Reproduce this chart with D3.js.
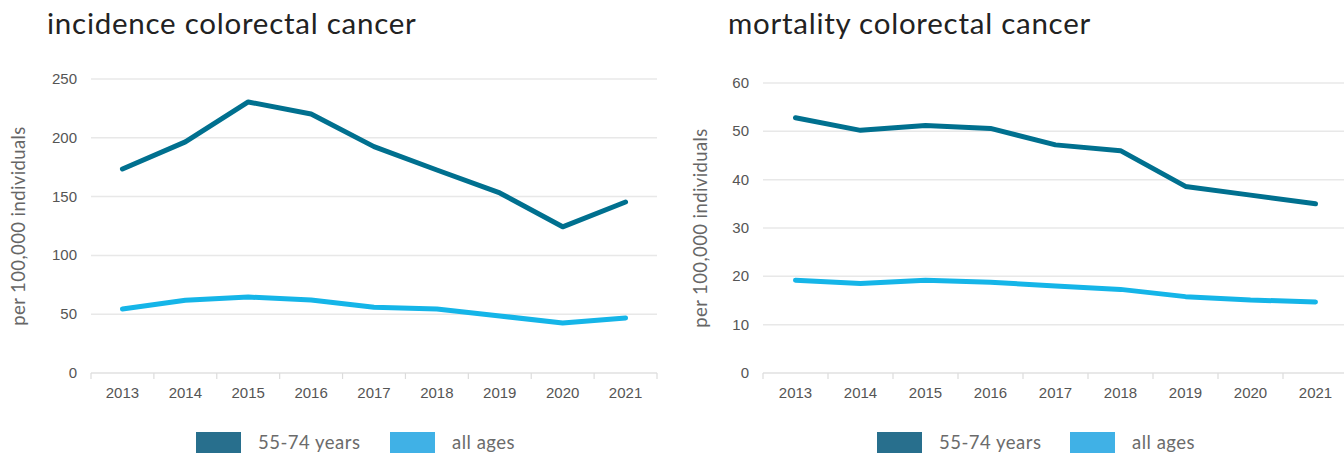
<!DOCTYPE html>
<html>
<head>
<meta charset="utf-8">
<script src="https://cdn.jsdelivr.net/npm/d3@7"></script>
<style>
  html, body { margin: 0; padding: 0; background: #fff; overflow: hidden; }
  svg { display: block; }
</style>
</head>
<body>
<svg id="chart" width="1344" height="454"></svg>
<script>
// Colorectal cancer rates per 100,000 individuals, 2013–2021
const years = ["2013", "2014", "2015", "2016", "2017", "2018", "2019", "2020", "2021"];

const incidence5574 = [173.5, 196.5, 230.5, 220.2, 192.5, 172.6, 153.1, 124.3, 145.4];
const incidenceAll  = [54.4, 61.8, 64.6, 62.0, 56.0, 54.4, 48.5, 42.5, 46.8];

const mortality5574 = [52.8, 50.2, 51.2, 50.6, 47.2, 46.0, 38.6, 36.8, 35.0];
const mortalityAll  = [19.2, 18.5, 19.2, 18.8, 18.0, 17.3, 15.8, 15.1, 14.7];

const incidenceTicks = [0, 50, 100, 150, 200, 250];
const mortalityTicks = [0, 10, 20, 30, 40, 50, 60];

const seriesNames = ["55-74 years", "all ages"];
const lineColors = ["#00708f", "#15b5e8"];
const legendColors = ["#286f8d", "#40b1e6"];

const svg = d3.select("#chart");

function drawPanel(opts) {
  const g = svg.append("g");

  const x = d3.scaleBand().domain(years).range([opts.x0, opts.x1]);
  const y = d3.scaleLinear().domain([0, d3.max(opts.ticks)]).range([opts.yBottom, opts.yTop]);

  // title
  g.append("text")
    .attr("x", opts.titleX)
    .attr("y", 34)
    .attr("font-family", "Lato, 'Open Sans', sans-serif")
    .attr("font-size", 29.5)
    .attr("fill", "#222")
    .attr("letter-spacing", 0.75)
    .text(opts.title);

  // gridlines
  g.selectAll(".grid")
    .data(opts.ticks.filter(t => t > 0))
    .join("line")
    .attr("x1", opts.x0).attr("x2", opts.x1)
    .attr("y1", d => y(d)).attr("y2", d => y(d))
    .attr("stroke", "#e8e8e8")
    .attr("stroke-width", 1.5);

  // y tick labels
  g.selectAll(".ylab")
    .data(opts.ticks)
    .join("text")
    .attr("x", opts.x0 - 14)
    .attr("y", d => y(d) + 5)
    .attr("text-anchor", "end")
    .attr("font-family", "'Liberation Sans', Arial, sans-serif")
    .attr("font-size", 15)
    .attr("fill", "#555")
    .text(d => d);

  // x axis baseline with ticks on band edges
  g.append("line")
    .attr("x1", opts.x0).attr("x2", opts.x1)
    .attr("y1", opts.yBottom).attr("y2", opts.yBottom)
    .attr("stroke", "#e0e0e0").attr("stroke-width", 1.5);

  const edges = years.map(d => x(d)).concat([x(years[years.length - 1]) + x.bandwidth()]);
  g.selectAll(".xtick")
    .data(edges)
    .join("line")
    .attr("x1", d => d).attr("x2", d => d)
    .attr("y1", opts.yBottom).attr("y2", opts.yBottom + 6)
    .attr("stroke", "#dcdcdc").attr("stroke-width", 1.2);

  g.selectAll(".xlab")
    .data(years)
    .join("text")
    .attr("x", d => x(d) + x.bandwidth() / 2)
    .attr("y", opts.yBottom + 25)
    .attr("text-anchor", "middle")
    .attr("font-family", "'Liberation Sans', Arial, sans-serif")
    .attr("font-size", 15)
    .attr("fill", "#555")
    .text(d => d);

  // y axis title
  g.append("text")
    .attr("transform", `translate(${opts.yTitleX},${(opts.yTop + opts.yBottom) / 2}) rotate(-90)`)
    .attr("text-anchor", "middle")
    .attr("font-family", "Lato, 'Open Sans', sans-serif")
    .attr("font-size", 18.5)
    .attr("fill", "#666")
    .attr("letter-spacing", 0.4)
    .text("per 100,000 individuals");

  // series lines
  const line = d3.line()
    .x((d, i) => x(years[i]) + x.bandwidth() / 2)
    .y(d => y(d));

  [1, 0].forEach(idx => {
    g.append("path")
      .datum(opts.series[idx])
      .attr("d", line)
      .attr("fill", "none")
      .attr("stroke", lineColors[idx])
      .attr("stroke-width", 5)
      .attr("stroke-linejoin", "round")
      .attr("stroke-linecap", "round");
  });

  // legend
  opts.legendX.forEach((lx, i) => {
    g.append("rect")
      .attr("x", lx).attr("y", 432)
      .attr("width", 45).attr("height", 21)
      .attr("fill", legendColors[i]);
    g.append("text")
      .attr("x", lx + 62)
      .attr("y", 449)
      .attr("font-family", "Lato, 'Open Sans', sans-serif")
      .attr("font-size", 18.5)
      .attr("fill", "#6b6b6b")
      .attr("letter-spacing", 0.5)
      .text(seriesNames[i]);
  });
}

drawPanel({
  title: "incidence colorectal cancer",
  titleX: 47,
  x0: 91, x1: 657,
  yTop: 79, yBottom: 373,
  ticks: incidenceTicks,
  yTitleX: 25,
  series: [incidence5574, incidenceAll],
  legendX: [196, 390]
});

drawPanel({
  title: "mortality colorectal cancer",
  titleX: 728,
  x0: 763, x1: 1348,
  yTop: 83, yBottom: 373,
  ticks: mortalityTicks,
  yTitleX: 707,
  series: [mortality5574, mortalityAll],
  legendX: [877, 1070]
});
</script>
</body>
</html>
